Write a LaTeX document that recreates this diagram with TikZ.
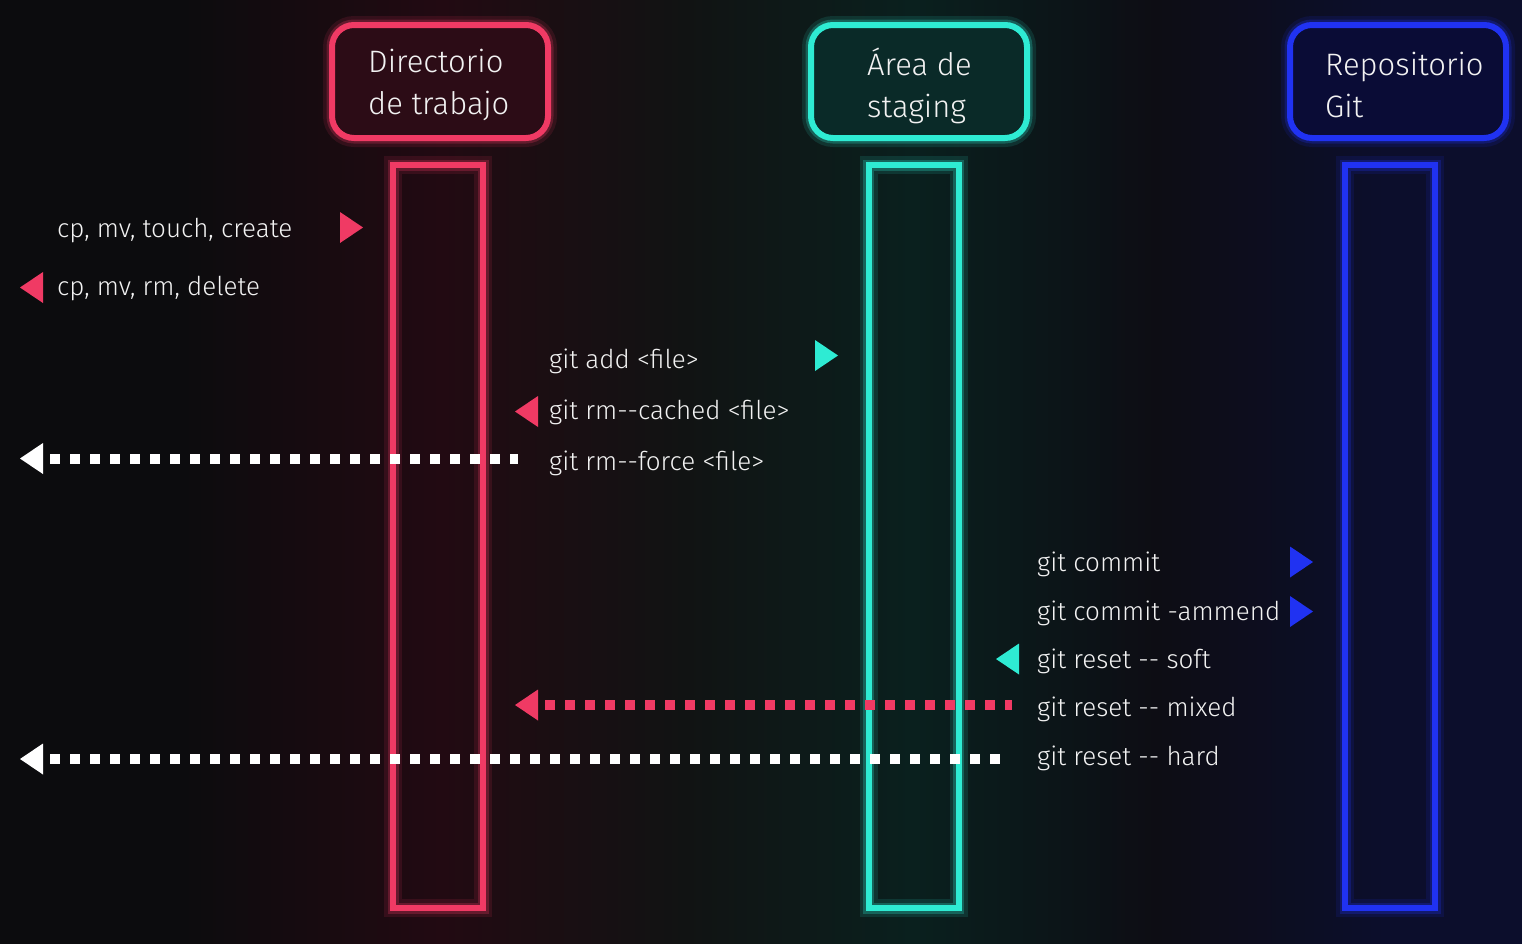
\documentclass[tikz,border=0pt]{standalone}
\usepackage{fontspec}
\setmainfont{Fira Sans Light}
\usetikzlibrary{arrows.meta}
\definecolor{cred}{HTML}{F03A64}
\definecolor{ccyan}{HTML}{2EEBD3}
\definecolor{cblue}{HTML}{2032F2}
\definecolor{ctext}{HTML}{F2F2F2}
\definecolor{bg0}{HTML}{0C0C0E}
\definecolor{bgr}{HTML}{220A12}
\definecolor{bgm}{HTML}{111313}
\definecolor{bgc}{HTML}{0A201E}
\definecolor{bgn}{HTML}{0D0D14}
\definecolor{bgb}{HTML}{0C0E2C}
\definecolor{fillr}{HTML}{2C0C16}
\definecolor{fillc}{HTML}{0A2A28}
\definecolor{fillb}{HTML}{0A0C36}
\pgfdeclarehorizontalshading{bgshade}{100bp}{color(0bp)=(bg0); color(31bp)=(bg0); color(39.5bp)=(bgr); color(47.5bp)=(bgm); color(55bp)=(bgc); color(63bp)=(bgn); color(70.5bp)=(bgb); color(100bp)=(bgb)}
\tikzset{
  titlebox/.style={draw=#1, line width=6pt, rounded corners=22pt, minimum width=216pt, minimum height=113pt, inner sep=0pt},
  glow/.style={draw=#1, line width=18pt, draw opacity=0.12, rounded corners=22pt},
  glowb/.style={draw=#1, line width=11pt, draw opacity=0.25, rounded corners=22pt},
  lifeline/.style={draw=#1, line width=6pt, minimum width=90pt, minimum height=743pt, inner sep=0pt},
  titletext/.style={text=ctext, font=\fontsize{31}{42}\selectfont, align=left, anchor=base west, inner sep=0pt},
  lbl/.style={text=ctext, font=\fontsize{26}{30}\selectfont, anchor=base west, inner sep=0pt},
  dots/.style={draw=#1, line width=10pt, dash pattern=on 10pt off 10pt},
}
\newcommand{\tright}[3]{\fill[#1] (#2,#3-15.5) -- (#2+23,#3) -- (#2,#3+15.5) -- cycle;}
\newcommand{\tleft}[3]{\fill[#1] (#2+23,#3-15.5) -- (#2,#3) -- (#2+23,#3+15.5) -- cycle;}
\begin{document}
\begin{tikzpicture}[x=1pt,y=-1pt]
\useasboundingbox (0,0) rectangle (1522,943);
\shade[shading=bgshade] (0,0) rectangle (1522,943);

% glows
\foreach \cx/\c in {440/cred, 919/ccyan, 1398/cblue}{
  \draw[glow=\c] (\cx-108,25) rectangle (\cx+108,138);
  \draw[glowb=\c] (\cx-108,25) rectangle (\cx+108,138);
}
\foreach \cx/\c in {438/cred, 913.5/ccyan, 1390/cblue}{
  \draw[glow=\c, rounded corners=0pt] (\cx-45,165) rectangle (\cx+45,908);
  \draw[glowb=\c, rounded corners=0pt] (\cx-45,165) rectangle (\cx+45,908);
}

% title boxes
\node[titlebox=cred, fill=fillr] (wd) at (440,81.5) {};
\node[titlebox=ccyan, fill=fillc] (st) at (919,81.5) {};
\node[titlebox=cblue, fill=fillb] (rp) at (1398,81.5) {};
\node[titletext] (wdt) at (368,114) {Directorio\\de trabajo};
\node[titletext] (stt) at (867,117) {Área de\\staging};
\node[titletext] (rpt) at (1325,117) {Repositorio\\Git};

% lifelines
\node[lifeline=cred] (wdl) at (438,536.5) {};
\node[lifeline=ccyan] (stl) at (913.5,536.5) {};
\node[lifeline=cblue] (rpl) at (1390,536.5) {};

% labels
\node[lbl] (l1) at (57,237) {cp, mv, touch, create};
\node[lbl] (l2) at (57,295) {cp, mv, rm, delete};
\node[lbl] (l3) at (549,368) {git add <file>};
\node[lbl] (l4) at (549,419) {git rm{-}{-}cached <file>};
\node[lbl] (l5) at (549,470) {git rm{-}{-}force <file>};
\node[lbl] (l6) at (1037,571) {git commit};
\node[lbl] (l7) at (1037,620) {git commit -ammend};
\node[lbl] (l8) at (1037,668) {git reset {-}{-} soft};
\node[lbl] (l9) at (1037,716) {git reset {-}{-} mixed};
\node[lbl] (l10) at (1037,765) {git reset {-}{-} hard};

% triangles
\tright{cred}{340}{227.5}
\tleft{cred}{20}{287.5}
\tright{ccyan}{815}{355.5}
\tleft{cred}{515}{411.5}
\tright{cblue}{1290}{562}
\tright{cblue}{1290}{611.5}
\tleft{ccyan}{996}{659}

% dotted arrows
\coordinate (a1s) at (518,459);
\coordinate (a1e) at (50,459);
\draw[dots=white] (a1e) -- (a1s);
\tleft{white}{20}{458.5}

\coordinate (a2s) at (1012,705);
\coordinate (a2e) at (545,705);
\draw[dots=cred] (a2e) -- (a2s);
\tleft{cred}{515}{705}

\coordinate (a3s) at (1003,759);
\coordinate (a3e) at (50,759);
\draw[dots=white] (a3e) -- (a3s);
\tleft{white}{20}{759}
\end{tikzpicture}
\end{document}
